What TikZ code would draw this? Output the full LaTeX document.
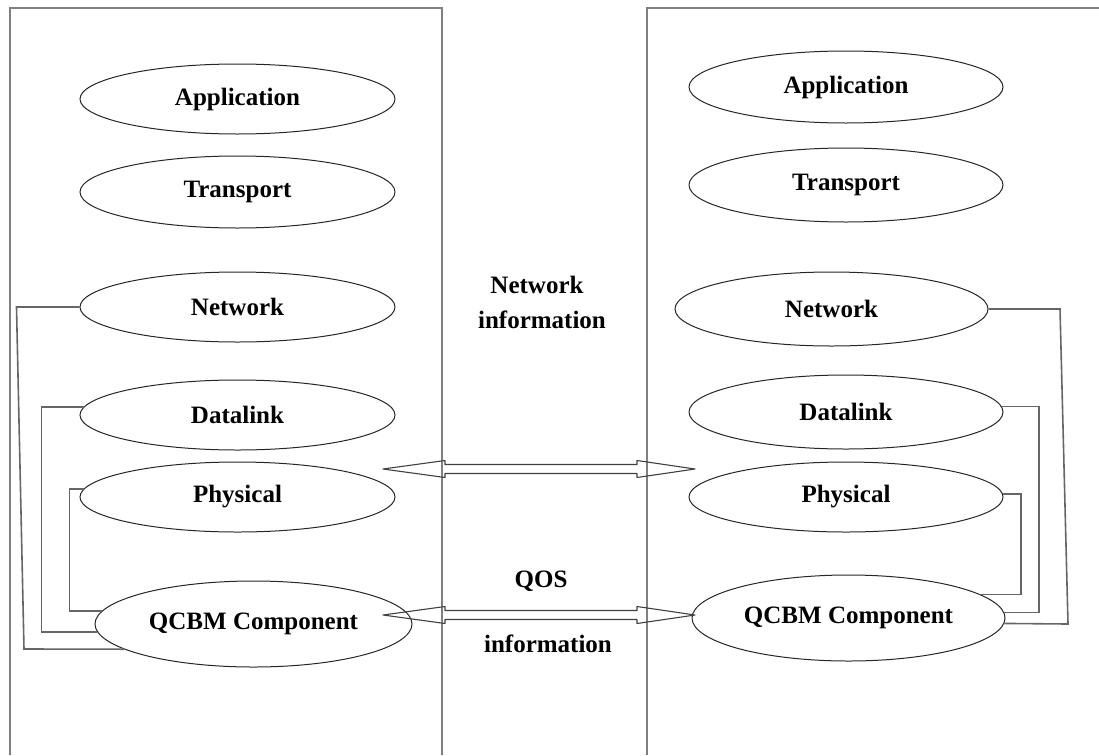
\documentclass[tikz,border=0pt]{standalone}
\usepackage{fontspec}
\setmainfont{Liberation Serif}
\usetikzlibrary{shapes.geometric,calc}
\begin{document}
\begin{tikzpicture}[x=1pt,y=-1pt,
  layer/.style={ellipse,draw=black!85,line width=1pt,inner sep=0pt,font=\fontsize{25}{30}\selectfont\bfseries},
  boxline/.style={draw=black!50,line width=2pt},
  link/.style={draw=black!60,line width=1.6pt},
  bigarrow/.style={draw=black!75,line width=1.1pt,line join=round},
  lbl/.style={font=\fontsize{25}{30}\selectfont\bfseries,inner sep=0pt,anchor=base}]
\useasboundingbox (0,0) rectangle (1099,755);
% frames
\draw[boxline] (10,755) -- (10,8) -- (442,8) -- (442,755);
\draw[boxline] (647,755) -- (647,8) -- (1099,8);
% left stack
\node[layer,minimum width=315,minimum height=70] (LApp) at (237.5,99) {Application};
\node[layer,minimum width=315,minimum height=72] (LTr) at (237.5,192) {Transport};
\node[layer,minimum width=315,minimum height=70] (LNet) at (237.5,307) {Network};
\node[layer,minimum width=315,minimum height=70] (LDl) at (237.5,415) {Datalink};
\node[layer,minimum width=315,minimum height=70] (LPh) at (237.5,497) {Physical};
\node[layer,minimum width=317,minimum height=86] (LQ) at (253.5,624) {QCBM Component};
% right stack
\node[layer,minimum width=314,minimum height=72] (RApp) at (846,87) {Application};
\node[layer,minimum width=314,minimum height=74] (RTr) at (846,185) {Transport};
\node[layer,minimum width=313,minimum height=74] (RNet) at (831.5,309) {Network};
\node[layer,minimum width=314,minimum height=74] (RDl) at (846,412) {Datalink};
\node[layer,minimum width=314,minimum height=70] (RPh) at (846,497) {Physical};
\node[layer,minimum width=313,minimum height=86] (RQ) at (848.5,618) {QCBM Component};
% left connectors
\draw[link] (LNet.west) -- ++(-63,0) -- (24,649) -- (LQ.191);
\draw[link] (LDl.177) -- ++(-42,0) |- (LQ.183);
\draw[link] (LPh.177) -- ++(-14,0) |- (LQ.175);
% right connectors
\draw[link] (RNet.east) -- (1060,309) -- (1068,624) -- (RQ.-2);
\draw[link] (RDl.2) -- ++(37,0) |- (RQ.2);
\draw[link] (RPh.1) -- ++(18,0) |- (RQ.10.5);
% double arrows
\coordinate (n1l) at (383,469);
\coordinate (n1r) at (695,469);
\coordinate (q1l) at (383,615);
\coordinate (q1r) at (695,615);
\draw[bigarrow] (n1l) -- ++(62,-8.5) -- ++(0,4) -- ($(n1r)+(-58,-4.5)$) -- ++(0,-4) -- (n1r)
  -- ++(-58,8.5) -- ++(0,-4) -- ($(n1l)+(62,4.5)$) -- ++(0,4) -- cycle;
\draw[bigarrow] (q1l) -- ++(62,-8.5) -- ++(0,4) -- ($(q1r)+(-58,-4.5)$) -- ++(0,-4) -- (q1r)
  -- ++(-58,8.5) -- ++(0,-4) -- ($(q1l)+(62,4.5)$) -- ++(0,4) -- cycle;
% labels
\node[lbl] (ni1) at (537,293) {Network};
\node[lbl] (ni2) at (542,328) {information};
\node[lbl] (qi1) at (541,587) {QOS};
\node[lbl] (qi2) at (548,652) {information};
\end{tikzpicture}
\end{document}
